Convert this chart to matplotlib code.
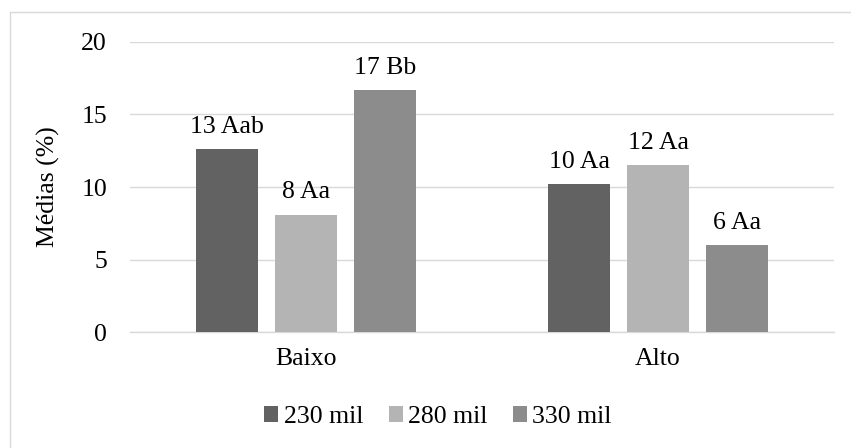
import matplotlib.pyplot as plt
import numpy as np
from matplotlib.patches import Rectangle

plt.rcParams["font.family"] = ["Liberation Serif", "DejaVu Serif"]

categories = ["Baixo", "Alto"]
series = ["230 mil", "280 mil", "330 mil"]
medias = [
    [12.6, 10.2],   # 230 mil
    [8.1, 11.5],    # 280 mil
    [16.7, 6.0],    # 330 mil
]
letras = [
    ["Aab", "Aa"],
    ["Aa", "Aa"],
    ["Bb", "Aa"],
]
colors = ["#626262", "#b4b4b4", "#8c8c8c"]
FS = 18.5

W, H, DPI = 851, 448, 100
fig = plt.figure(figsize=(W / DPI, H / DPI), dpi=DPI)
ax = fig.add_axes([130 / W, 1 - 332 / H, 704 / W, 290 / H])

x = np.arange(len(categories))
width = 0.176
step = 0.224
for i, (vals, lets) in enumerate(zip(medias, letras)):
    pos = x + (i - 1) * step
    bars = ax.bar(pos, vals, width, color=colors[i], label=series[i], zorder=3)
    for b, v, l in zip(bars, vals, lets):
        ax.annotate(f"{v:.0f} {l}", (b.get_x() + b.get_width() / 2, v),
                    xytext=(0, 8), textcoords="offset points",
                    ha="center", va="bottom", fontsize=FS)

ax.set_xlim(-0.5, 1.5)
ax.set_ylim(0, 20)
ax.set_yticks([0, 5, 10, 15, 20])
ax.set_xticks(x)
ax.set_xticklabels(categories)
ax.tick_params(axis="both", length=0, labelsize=FS)
ax.tick_params(axis="y", pad=16.5)
ax.tick_params(axis="x", pad=11.5)
ax.grid(axis="y", color="#d9d9d9", lw=1.0, zorder=0)
for s in ["top", "right", "left"]:
    ax.spines[s].set_visible(False)
ax.spines["bottom"].set_color("#d9d9d9")
ax.spines["bottom"].set_linewidth(1.0)

ax.set_ylabel("Médias (%)", fontsize=FS)
ax.yaxis.set_label_coords(-70 / 704, 0.5)

fig.legend(loc="center", bbox_to_anchor=(438 / W, 1 - 417 / H), ncol=3,
           frameon=False, fontsize=FS, handlelength=0.55, handleheight=0.55,
           handletextpad=0.2, columnspacing=1.0)

# chart area border
fig.add_artist(Rectangle((9.5 / W, -0.1), 1.2, 1.1 - 12.5 / H,
                         transform=fig.transFigure, fill=False,
                         edgecolor="#d9d9d9", lw=1.0))

fig.savefig("out.png", dpi=DPI)
